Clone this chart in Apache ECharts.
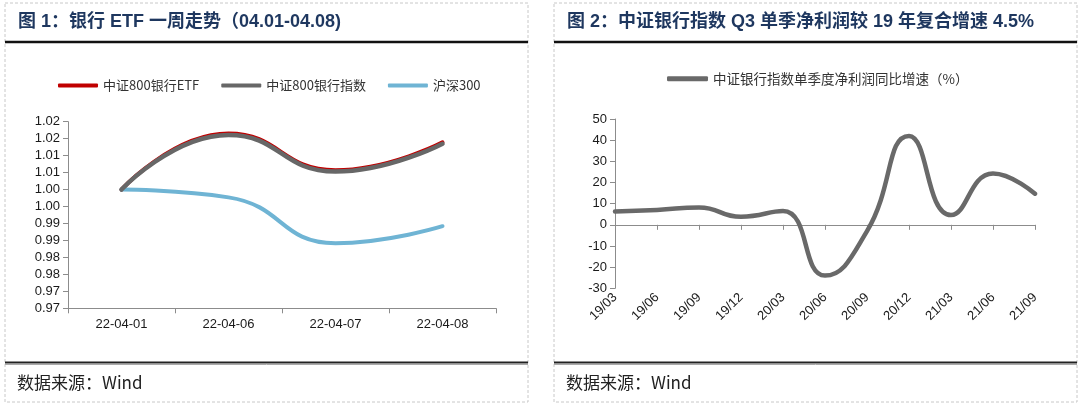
<!DOCTYPE html>
<html>
<head>
<meta charset="utf-8">
<script src="https://cdn.jsdelivr.net/npm/echarts@6/dist/echarts.min.js"></script>
<style>
html,body{margin:0;padding:0;background:#fff;}
#c{width:1080px;height:409px;}
</style>
</head>
<body>
<div id="c"></div>
<script>
// ---- data ----
const title1 = '图 1：银行 ETF 一周走势（04.01-04.08)';
const title2 = '图 2：中证银行指数 Q3 单季净利润较 19 年复合增速 4.5%';
const source = '数据来源：Wind';
const cats1 = ['22-04-01', '22-04-06', '22-04-07', '22-04-08'];
const names1 = ['中证800银行ETF', '中证800银行指数', '沪深300'];
const etf = [1.000, 1.0165, 1.0057, 1.0139];
const bankIdx = [1.000, 1.0161, 1.0053, 1.0135];
const hs300 = [1.000, 0.9977, 0.9842, 0.9892];
const cats2 = ['19/03', '19/06', '19/09', '19/12', '20/03', '20/06', '20/09', '20/12', '21/03', '21/06', '21/09'];
const name2 = '中证银行指数单季度净利润同比增速（%）';
const profitYoY = [6.3, 7.0, 8.2, 3.8, 6.5, -24, -3, 42, 4.6, 24.3, 14.7];

const FONT = '"Liberation Sans", Arial, "Noto Sans CJK SC", sans-serif';
const CJK = '"Noto Sans CJK SC", "Liberation Sans", sans-serif';
const AX = '#8c8c8c';
const TXT = '#1a1a1a';

const chart = echarts.init(document.getElementById('c'), null, {renderer: 'canvas'});

function panelGraphics(x0, x1, title) {
  return [
    {type: 'rect', shape: {x: x0, y: 3, width: x1 - x0, height: 399}, style: {fill: 'none', stroke: '#c8c8c8', lineWidth: 1, lineDash: [3, 2]}, silent: true},
    {type: 'text', x: x0 + 13, y: 22, style: {text: title, font: 'bold 18px ' + '"Liberation Sans", "Noto Sans CJK SC", sans-serif', fill: '#1e375f', textVerticalAlign: 'middle'}},
    {type: 'line', shape: {x1: x0, y1: 42, x2: x1, y2: 42}, style: {stroke: '#111', lineWidth: 2.5}},
    {type: 'line', shape: {x1: x0, y1: 362.5, x2: x1, y2: 362.5}, style: {stroke: '#222', lineWidth: 2}},
    {type: 'line', shape: {x1: x0, y1: 364.5, x2: x1, y2: 364.5}, style: {stroke: '#aaa', lineWidth: 1}},
    {type: 'text', x: x0 + 12, y: 383, style: {text: source, font: '17px ' + CJK, fill: '#222', textVerticalAlign: 'middle'}}
  ];
}

const option = {
  animation: false,
  backgroundColor: '#fff',
  graphic: [].concat(panelGraphics(5, 528, title1), panelGraphics(554, 1077, title2)),
  legend: [
    {
      data: names1.map(n => ({name: n})),
      left: 58, top: 79,
      itemWidth: 40, itemHeight: 4, itemGap: 22,
      icon: 'roundRect',
      textStyle: {fontFamily: CJK, fontSize: 13, color: '#333'},
      padding: 0
    },
    {
      data: [{name: name2}],
      left: 667, top: 72,
      itemWidth: 41, itemHeight: 5, itemGap: 10,
      icon: 'roundRect',
      textStyle: {fontFamily: CJK, fontSize: 13.5, color: '#333'},
      padding: 0
    }
  ],
  grid: [
    {left: 68, width: 428, top: 121.7, height: 186.6, containLabel: false},
    {left: 615, width: 420, top: 119, height: 169.3, containLabel: false}
  ],
  xAxis: [
    {
      gridIndex: 0, type: 'category', data: cats1, boundaryGap: true,
      axisLine: {lineStyle: {color: AX, width: 1}},
      axisTick: {show: true, alignWithLabel: false, length: 5, lineStyle: {color: AX}},
      axisLabel: {fontFamily: FONT, fontSize: 13, color: TXT, margin: 10}
    },
    {
      gridIndex: 1, type: 'category', data: cats2, boundaryGap: false,
      axisLine: {onZero: true, lineStyle: {color: AX, width: 1}},
      axisTick: {show: true, length: 5, lineStyle: {color: AX}},
      axisLabel: {show: false}
    },
    {
      gridIndex: 1, type: 'category', data: cats2, boundaryGap: false, position: 'bottom',
      axisLine: {show: false, onZero: false},
      axisTick: {show: false},
      axisLabel: {fontFamily: FONT, fontSize: 13, color: TXT, rotate: 45, margin: 7, interval: 0}
    }
  ],
  yAxis: [
    {
      gridIndex: 0, type: 'value', min: 0.965, max: 1.02, interval: 0.005,
      axisLine: {show: true, lineStyle: {color: AX}},
      axisTick: {show: true, length: 5, lineStyle: {color: AX}},
      splitLine: {show: false},
      axisLabel: {
        fontFamily: FONT, fontSize: 13, color: TXT, margin: 8,
        formatter: v => (Math.round(v * 100 + 1e-6) / 100).toFixed(2)
      }
    },
    {
      gridIndex: 1, type: 'value', min: -30, max: 50, interval: 10,
      axisLine: {show: true, lineStyle: {color: AX}},
      axisTick: {show: true, length: 5, lineStyle: {color: AX}},
      splitLine: {show: false},
      axisLabel: {fontFamily: FONT, fontSize: 13, color: TXT, margin: 8}
    }
  ],
  series: [
    {
      name: names1[0], type: 'line', xAxisIndex: 0, yAxisIndex: 0, data: etf,
      smooth: 0.5, symbol: 'none', z: 2,
      itemStyle: {color: '#c00000'},
      lineStyle: {color: '#c00000', width: 4, cap: 'round'}
    },
    {
      name: names1[1], type: 'line', xAxisIndex: 0, yAxisIndex: 0, data: bankIdx,
      smooth: 0.5, symbol: 'none', z: 3,
      itemStyle: {color: '#676767'},
      lineStyle: {color: '#676767', width: 4.5, cap: 'round'}
    },
    {
      name: names1[2], type: 'line', xAxisIndex: 0, yAxisIndex: 0, data: hs300,
      smooth: 0.5, symbol: 'none', z: 2,
      itemStyle: {color: '#6fb4d4'},
      lineStyle: {color: '#6fb4d4', width: 4, cap: 'round'}
    },
    {
      name: name2, type: 'line', xAxisIndex: 1, yAxisIndex: 1, data: profitYoY,
      smooth: 0.5, symbol: 'none', z: 3,
      itemStyle: {color: '#696969'},
      lineStyle: {color: '#696969', width: 4.5, cap: 'round'}
    }
  ]
};
chart.setOption(option);
</script>
</body>
</html>
